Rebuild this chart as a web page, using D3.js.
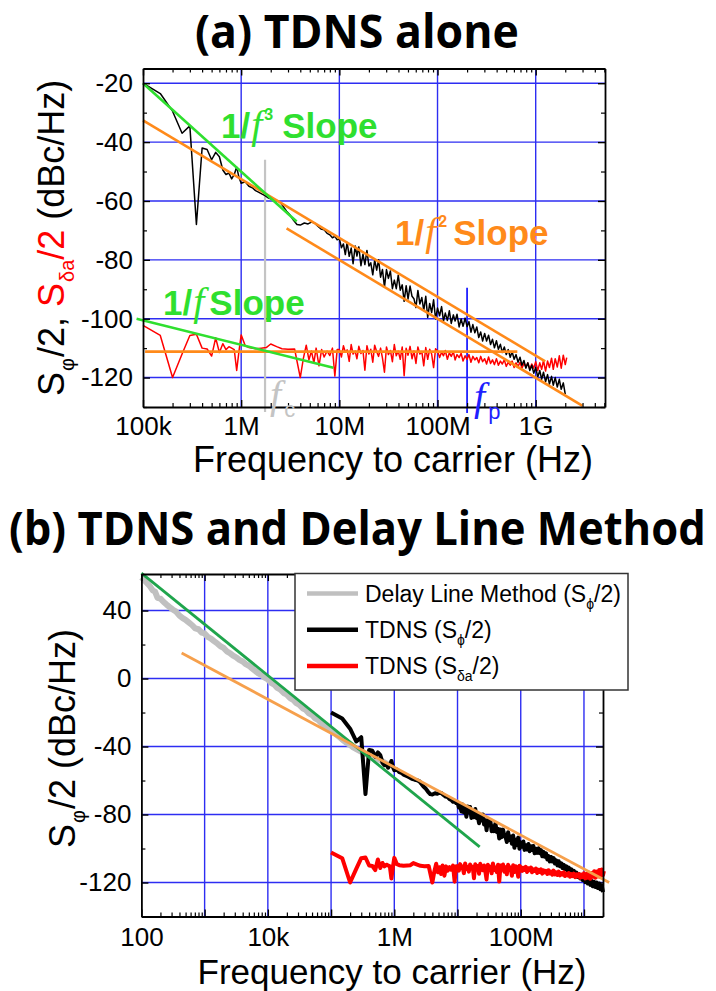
<!DOCTYPE html>
<html>
<head>
<meta charset="utf-8">
<script src="https://cdn.jsdelivr.net/npm/d3@7"></script>
<style>
  body { margin: 0; background: #fff; }
  svg { display: block; font-family: "Liberation Sans", Arial, sans-serif; }
</style>
</head>
<body>
<svg id="chart" width="716" height="991"></svg>
<script>
// ---------- measured spectra: [frequency offset (Hz), level (dBc/Hz)] ----------
const tdnsPhase = [
  [1.0e5,-20],[1.5e5,-23.5],[2.0e5,-29.5],[2.5e5,-37],[3.0e5,-34.5],[3.5e5,-68],[4.0e5,-42],[4.5e5,-42.5],
  [5.0e5,-46],[5.5e5,-43.5],[6.0e5,-45],[6.5e5,-49.5],[7.0e5,-51],[7.5e5,-50.5],[8.0e5,-52.5],[8.5e5,-51],
  [9.0e5,-48.5],[9.5e5,-52],[1.0e6,-54],[1.1e6,-53.5],[1.2e6,-55],[1.3e6,-55.5],[1.4e6,-56.5],[1.5e6,-57],
  [1.6e6,-57.5],[1.75e6,-58.2],[1.9e6,-59],[2.1e6,-59.5],[2.3e6,-59.8],[2.5e6,-60.5],[2.7e6,-62],[2.9e6,-63.5],
  [3.1e6,-64.5],[3.4e6,-66.5],[3.7e6,-68],[4.0e6,-68.2],[4.4e6,-67.5],[4.8e6,-67.8],[5.2e6,-67.2],[5.6e6,-67.5],
  [6.0e6,-68.5],[6.5e6,-69.5],[7.0e6,-69.8],[7.5e6,-71],[8.0e6,-71.5],[8.5e6,-72.5],[9.0e6,-72],[9.5e6,-73.2],
  [1.00e7,-72.8],[1.05e7,-75.9],[1.10e7,-74.6],[1.15e7,-78.2],[1.20e7,-74.1],[1.26e7,-78.8],[1.32e7,-76.0],
  [1.38e7,-81.3],[1.45e7,-75.3],[1.51e7,-78.7],[1.58e7,-75.6],[1.66e7,-82.0],[1.74e7,-78.1],[1.82e7,-81.6],
  [1.91e7,-76.8],[2.00e7,-82.1],[2.09e7,-81.0],[2.19e7,-85.1],[2.29e7,-80.0],[2.40e7,-83.5],[2.51e7,-80.0],
  [2.63e7,-85.9],[2.75e7,-83.3],[2.88e7,-89.3],[3.02e7,-83.3],[3.16e7,-86.3],[3.31e7,-83.8],[3.47e7,-89.8],
  [3.63e7,-86.9],[3.80e7,-89.8],[3.98e7,-85.2],[4.17e7,-90.3],[4.37e7,-88.5],[4.57e7,-94.1],[4.79e7,-88.8],
  [5.01e7,-93.3],[5.25e7,-88.9],[5.50e7,-92.4],[5.75e7,-93.2],[6.03e7,-96.2],[6.31e7,-90.4],[6.61e7,-95.0],
  [6.92e7,-92.8],[7.24e7,-97.2],[7.59e7,-92.4],[7.94e7,-99.6],[8.32e7,-94.8],[8.71e7,-97.9],[9.12e7,-93.6],
  [9.55e7,-100.1],[1.00e8,-96.4],[1.05e8,-99.0],[1.10e8,-95.9],[1.15e8,-100.8],[1.20e8,-98.1],[1.26e8,-100.6],
  [1.32e8,-97.3],[1.38e8,-101.6],[1.45e8,-98.7],[1.51e8,-100.8],[1.58e8,-98.5],[1.66e8,-102.8],[1.74e8,-100.1],
  [1.82e8,-102.6],[1.91e8,-99.8],[2.00e8,-102.7],[2.09e8,-101.0],[2.19e8,-104.6],[2.29e8,-102.0],[2.40e8,-104.8],
  [2.51e8,-102.8],[2.63e8,-106.4],[2.75e8,-104.5],[2.88e8,-107.6],[3.02e8,-105.0],[3.16e8,-107.6],[3.31e8,-105.6],
  [3.47e8,-108.8],[3.63e8,-107.0],[3.80e8,-109.9],[3.98e8,-107.5],[4.17e8,-110.4],[4.37e8,-108.7],[4.57e8,-111.5],
  [4.79e8,-109.6],[5.01e8,-112.2],[5.25e8,-110.5],[5.50e8,-113.1],[5.75e8,-111.2],[6.03e8,-113.8],[6.31e8,-112.2],
  [6.61e8,-114.8],[6.92e8,-113.1],[7.24e8,-115.8],[7.59e8,-114.2],[7.94e8,-116.8],[8.32e8,-115.0],[8.71e8,-117.6],
  [9.12e8,-115.8],[9.55e8,-118.5],[1.00e9,-116.6],[1.05e9,-119.8],[1.10e9,-117.6],[1.15e9,-120.6],[1.20e9,-118.2],
  [1.26e9,-121.4],[1.32e9,-119.0],[1.38e9,-122.2],[1.45e9,-119.6],[1.51e9,-122.6],[1.58e9,-120.0],[1.66e9,-123.2],
  [1.74e9,-120.6],[1.82e9,-124.0],[1.91e9,-121.8],[2.00e9,-125.6]
];

const tdnsAmplitude = [
  [1.0e5,-102.3],[1.5e5,-105.7],[2.0e5,-120],[2.5e5,-112],[3.0e5,-105.7],[3.5e5,-105.3],[4.0e5,-110],[4.5e5,-110.3],
  [5.0e5,-112.7],[5.5e5,-106.5],[6.0e5,-111.5],[6.5e5,-108.5],[7.0e5,-110.5],[7.5e5,-109.5],[8.0e5,-110],[8.5e5,-110.5],
  [9.0e5,-117.6],[9.5e5,-111],[1.0e6,-105.5],[1.1e6,-109.2],[1.2e6,-109.8],[1.4e6,-110.2],[1.6e6,-110],[1.8e6,-109.8],
  [2.0e6,-108.6],[2.3e6,-109.5],[2.6e6,-110.2],[3.0e6,-110.4],[3.5e6,-110.3],[4.0e6,-120],[4.3e6,-113.5],[4.6e6,-109],
  [4.9e6,-114],[5.2e6,-111],[5.5e6,-115],[5.8e6,-110],[6.2e6,-116],[6.6e6,-110.5],[7.0e6,-113],[7.5e6,-111],
  [8.0e6,-112.5],[8.5e6,-110],[9.0e6,-119.5],[9.5e6,-110.5],
  [1.00e7,-110.5],[1.05e7,-113.0],[1.10e7,-109.2],[1.15e7,-111.4],[1.20e7,-110.6],[1.26e7,-114.5],[1.32e7,-108.8],
  [1.38e7,-112.0],[1.45e7,-111.0],[1.51e7,-113.6],[1.58e7,-109.4],[1.66e7,-111.8],[1.74e7,-110.8],[1.82e7,-117.5],
  [1.91e7,-109.2],[2.00e7,-112.0],[2.09e7,-110.4],[2.19e7,-114.8],[2.29e7,-109.0],[2.40e7,-111.2],[2.51e7,-112.8],
  [2.63e7,-110.0],[2.75e7,-113.4],[2.88e7,-118.2],[3.02e7,-109.6],[3.16e7,-112.2],[3.31e7,-110.8],[3.47e7,-114.6],
  [3.63e7,-108.8],[3.80e7,-112.6],[3.98e7,-111.0],[4.17e7,-113.8],[4.37e7,-109.6],[4.57e7,-119.4],[4.79e7,-110.0],
  [5.01e7,-112.4],[5.25e7,-109.4],[5.50e7,-113.6],[5.75e7,-111.0],[6.03e7,-115.2],[6.31e7,-109.6],[6.61e7,-112.0],
  [6.92e7,-111.2],[7.24e7,-116.0],[7.59e7,-109.8],[7.94e7,-113.8],[8.32e7,-110.4],[8.71e7,-112.0],[9.12e7,-116.6],
  [9.55e7,-110.2],[1.00e8,-111.0],[1.05e8,-113.2],[1.10e8,-111.4],[1.15e8,-112.6],[1.20e8,-110.8],[1.26e8,-113.8],
  [1.32e8,-111.6],[1.38e8,-112.8],[1.45e8,-111.2],[1.51e8,-114.0],[1.58e8,-112.2],[1.66e8,-113.2],[1.74e8,-111.8],
  [1.82e8,-114.4],[1.91e8,-112.6],[2.00e8,-113.8],[2.09e8,-112.2],[2.19e8,-114.8],[2.29e8,-112.8],[2.40e8,-114.0],
  [2.51e8,-113.2],[2.63e8,-115.0],[2.75e8,-112.8],[2.88e8,-114.6],[3.02e8,-113.6],[3.16e8,-115.4],[3.31e8,-113.0],
  [3.47e8,-115.2],[3.63e8,-114.0],[3.80e8,-115.6],[3.98e8,-113.6],[4.17e8,-115.8],[4.37e8,-114.4],[4.57e8,-115.4],
  [4.79e8,-114.0],[5.01e8,-116.2],[5.25e8,-114.8],[5.50e8,-115.8],[5.75e8,-114.4],[6.03e8,-116.6],[6.31e8,-115.0],
  [6.61e8,-116.2],[6.92e8,-114.8],[7.24e8,-116.8],[7.59e8,-115.2],[7.94e8,-116.4],[8.32e8,-115.0],[8.71e8,-117.2],
  [9.12e8,-115.4],[9.55e8,-116.8],[1.00e9,-114.6],[1.05e9,-117.6],[1.10e9,-115.0],[1.15e9,-117.2],[1.20e9,-114.2],
  [1.26e9,-117.8],[1.32e9,-114.4],[1.38e9,-116.6],[1.45e9,-113.4],[1.51e9,-117.2],[1.58e9,-113.6],[1.66e9,-116.4],
  [1.74e9,-112.6],[1.82e9,-116.8],[1.91e9,-112.4],[2.00e9,-115.6],[2.07e9,-113.2]
];

const delayLinePhase = [
  [100,59.5],[110,58],[120,56.5],[135,54.5],[150,52],[165,51],[180,47.5],[200,47],[225,45],[250,43.5],[280,42],
  [316,40.5],[350,39.5],[400,37],[450,35.5],[500,34.5],[560,33],[630,31.5],[710,29.5],[800,29],[900,27],
  [1000,26.5],[1120,24.5],[1260,23.5],[1410,22],[1600,20.5],[1780,19],[2000,18],[2240,16],[2510,15],[2820,13.5],
  [3160,12.5],[3550,11],[4000,10],[4470,8.5],[5010,7.5],[5620,6],[6310,4.5],[7080,3],[7940,2],[8910,0.5],
  [10000,-0.5],[11200,-2.5],[12600,-3.5],[14100,-5.5],[15800,-6.5],[17800,-8.5],[20000,-9.5],[22400,-11.5],
  [25100,-12.5],[28200,-14.5],[31600,-15.5],[35500,-17.5],[39800,-18.5],[44700,-20.5],[50100,-21.5],[56200,-23.5],
  [63100,-24.5],[70800,-26.5],[79400,-27.5],[89100,-29],[100000,-30],[112000,-32],[126000,-33.5],[141000,-35],
  [158000,-36.5],[178000,-38],[200000,-39],[224000,-40.5],[251000,-41.5],[282000,-42.5],[316000,-43.5],
  [355000,-44.5],[398000,-45],[447000,-46],[501000,-46.5],[562000,-47.5],[631000,-48.5],[708000,-49.5],
  [794000,-50.5],[850000,-51]
];

// ---------- reference slopes and markers: [frequency (Hz), level (dBc/Hz)] ----------
const topSlope3 = [[1e5,-20],[3.67e6,-67]];
const topSlope2Upper = [[1e5,-32.6],[1.25e9,-114.5]];
const topSlope2Lower = [[2.9e6,-69.3],[3.0e9,-129.6]];
const topSlope1 = [[8.6e4,-100],[8.7e6,-116.7]];
const topFloor = [[1.05e5,-111.2],[6.5e8,-111.2]];
const cornerFc = [[1.75e6,-46],[1.75e6,-131.7]];
const cornerFp = [[2.0e8,-89.5],[2.0e8,-132]];
const bottomSlope3 = [[100,62],[2.24e7,-99]];
const bottomSlope2 = [[433,15],[2.5e9,-120]];

// ---------- tick labels ----------
const topXTicks = [1e5,1e6,1e7,1e8,1e9];
const topXLabels = ["100k","1M","10M","100M","1G"];
const topYTicks = [-20,-40,-60,-80,-100,-120];
const topYLabels = ["-20","-40","-60","-80","-100","-120"];
const topYMinor = [-30,-50,-70,-90,-110,-130];
const botXTicks = [1e2,1e3,1e4,1e5,1e6,1e7,1e8,1e9];
const botXLabelled = [1e2,1e4,1e6,1e8];
const botXLabels = ["100","10k","1M","100M"];
const botYTicks = [40,0,-40,-80,-120];
const botYLabels = ["40","0","-40","-80","-120"];
const botYMinor = [20,-20,-60,-100,-140];
const legendLabels = ["Delay Line Method (S", "TDNS (S", "TDNS (S"];

// ---------- styling ----------
const GRID = "#2d2df2";
const TOP_GREEN = "#2fdf2f", TOP_ORANGE = "#ff8a1a";
const BOT_GREEN = "#1fa54c", BOT_ORANGE = "#f6a04c";
const RED = "#ff0000", GRAY = "#c0c0c0", BLUE = "#1f1fff";
const SANS = "'Liberation Sans', Arial, sans-serif";
const SERIF = "'Liberation Serif', 'Times New Roman', serif";
const TITLE = "'Open Sans', Lato, 'Noto Sans', sans-serif";

const svg = d3.select("#chart");

function panel(x, y, o) {
  const g = svg.append("g");
  const [x0, x1] = x.range(), [y0, y1] = y.range();
  g.append("g").selectAll("line").data(o.xTicks.filter(v => x(v) > x0 + 1 && x(v) < x1 - 1)).join("line")
    .attr("x1", d => x(d)).attr("x2", d => x(d)).attr("y1", y0).attr("y2", y1)
    .attr("stroke", GRID).attr("stroke-width", 1.4);
  g.append("g").selectAll("line").data(o.yTicks).join("line")
    .attr("x1", x0).attr("x2", x1).attr("y1", d => y(d)).attr("y2", d => y(d))
    .attr("stroke", GRID).attr("stroke-width", 1.4);
  return g;
}

function axes(g, x, y, o) {
  const [x0, x1] = x.range(), [y0, y1] = y.range();
  const minorX = x.ticks().filter(v => Math.abs(Math.log10(v) - Math.round(Math.log10(v))) > 1e-6);
  const style = sel => {
    sel.attr("font-size", 26).attr("font-family", SANS);
    sel.selectAll("line").attr("stroke", "#000").attr("stroke-width", 1.4);
    sel.select(".domain").attr("stroke", "#000").attr("stroke-width", 1.8);
    sel.selectAll("text").attr("fill", "#000");
  };
  const bare = sel => {
    sel.select(".domain").remove();
    sel.selectAll("text").remove();
    sel.selectAll("line").attr("stroke", "#000").attr("stroke-width", 1.2);
  };
  const labelsOnly = sel => {
    sel.attr("font-size", 26).attr("font-family", SANS);
    sel.select(".domain").remove();
    sel.selectAll("line").remove();
    sel.selectAll("text").attr("fill", "#000");
  };
  // bottom: minor ticks, major ticks + frame, labels
  g.append("g").attr("transform", `translate(0,${y0})`)
    .call(d3.axisBottom(x).tickValues(minorX).tickSizeInner(-4).tickSizeOuter(0)).call(bare);
  g.append("g").attr("transform", `translate(0,${y0})`)
    .call(d3.axisBottom(x).tickValues(o.xTicks).tickSizeInner(-7).tickSizeOuter(0))
    .call(style).call(s => s.selectAll("text").remove());
  g.append("g").attr("transform", `translate(0,${y0})`)
    .call(d3.axisBottom(x).tickValues(o.xLabelled).tickSize(0).tickPadding(o.xPad)
      .tickFormat((d, i) => o.xLabels[i])).call(labelsOnly);
  // top
  g.append("g").attr("transform", `translate(0,${y1})`)
    .call(d3.axisTop(x).tickValues(minorX).tickSizeInner(-4).tickSizeOuter(0)).call(bare);
  g.append("g").attr("transform", `translate(0,${y1})`)
    .call(d3.axisTop(x).tickValues(o.xTicks).tickSizeInner(-7).tickSizeOuter(0))
    .call(style).call(s => s.selectAll("text").remove());
  // left
  g.append("g").attr("transform", `translate(${x0},0)`)
    .call(d3.axisLeft(y).tickValues(o.yMinor).tickSizeInner(-4).tickSizeOuter(0)).call(bare);
  g.append("g").attr("transform", `translate(${x0},0)`)
    .call(d3.axisLeft(y).tickValues(o.yTicks).tickSizeInner(-7).tickSizeOuter(0).tickPadding(10)
      .tickFormat((d, i) => o.yLabels[i])).call(style);
  // right
  g.append("g").attr("transform", `translate(${x1},0)`)
    .call(d3.axisRight(y).tickValues(o.yMinor).tickSizeInner(-4).tickSizeOuter(0)).call(bare);
  g.append("g").attr("transform", `translate(${x1},0)`)
    .call(d3.axisRight(y).tickValues(o.yTicks).tickSizeInner(-7).tickSizeOuter(0))
    .call(style).call(s => s.selectAll("text").remove());
}

function trace(g, x, y, data, color, width) {
  const line = d3.line().x(d => x(d[0])).y(d => y(d[1]));
  g.append("path").datum(data).attr("d", line).attr("fill", "none")
    .attr("stroke", color).attr("stroke-width", width)
    .attr("stroke-linejoin", "round").attr("stroke-linecap", "butt");
}

// ================= (a) TDNS alone =================
const xT = d3.scaleLog().domain([1e5, 5.08e9]).range([143, 605]);
const yT = d3.scaleLinear().domain([-130, -15]).range([407, 68.5]);
const gT = panel(xT, yT, { xTicks: topXTicks, yTicks: topYTicks });

trace(gT, xT, yT, cornerFc, "#c4c4c4", 2.2);
trace(gT, xT, yT, cornerFp, BLUE, 1.8);
trace(gT, xT, yT, tdnsAmplitude, RED, 1.5);
trace(gT, xT, yT, tdnsPhase, "#000", 1.5);
trace(gT, xT, yT, topFloor, TOP_ORANGE, 2.6);
trace(gT, xT, yT, topSlope2Upper, TOP_ORANGE, 2.6);
trace(gT, xT, yT, topSlope2Lower, TOP_ORANGE, 2.6);
trace(gT, xT, yT, topSlope3, TOP_GREEN, 2.6);
trace(gT, xT, yT, topSlope1, TOP_GREEN, 2.6);

axes(gT, xT, yT, { xTicks: topXTicks, xLabelled: topXTicks, xLabels: topXLabels, yTicks: topYTicks,
                   yLabels: topYLabels, yMinor: topYMinor, xPad: 9.5 });

// slope annotations: "1/" + italic f + optional power + "Slope"
function slopeLabel(x, y, power, gap, color) {
  const t = svg.append("text").attr("x", x).attr("y", y).attr("fill", color)
    .attr("font-weight", "bold").attr("font-size", 35);
  t.append("tspan").text("1/");
  t.append("tspan").style("font-family", SERIF).attr("font-style", "italic")
    .attr("font-weight", "normal").attr("font-size", 40).attr("dx", 1).text("f");
  if (power) {
    t.append("tspan").attr("font-size", 16).attr("dy", -18).attr("dx", 2).text(power);
    t.append("tspan").attr("dy", 18).attr("dx", gap).text("Slope");
  } else {
    t.append("tspan").attr("dx", gap).text("Slope");
  }
}
slopeLabel(221, 138, "3", 9, TOP_GREEN);
slopeLabel(395, 245, "2", 6, TOP_ORANGE);
slopeLabel(163, 315, "", 5, TOP_GREEN);

// corner frequency markers
function cornerLabel(x, y, sub, color) {
  const t = svg.append("text").attr("x", x).attr("y", y).attr("fill", color);
  t.append("tspan").style("font-family", SERIF).attr("font-style", "italic").attr("font-size", 40).text("f");
  t.append("tspan").attr("font-size", 22).attr("dy", 9).attr("dx", 3).text(sub);
}
cornerLabel(270, 408, "c", "#c4c4c4");
cornerLabel(474, 410, "p", BLUE);

// axis titles
svg.append("text").attr("x", 393).attr("y", 472).attr("text-anchor", "middle")
  .attr("font-size", 36).text("Frequency to carrier (Hz)");

const yLabT = svg.append("text").attr("transform", "translate(64,396) rotate(-90)").attr("font-size", 36);
yLabT.append("tspan").text("S");
yLabT.append("tspan").attr("font-size", 20).attr("dy", 10).attr("dx", 1).text("φ");
yLabT.append("tspan").attr("dy", -10).attr("dx", 1).text("/2, ");
yLabT.append("tspan").attr("fill", RED).text("S");
yLabT.append("tspan").attr("fill", RED).attr("font-size", 20).attr("dy", 10).attr("dx", 1).text("δa");
yLabT.append("tspan").attr("fill", RED).attr("dy", -10).text("/2");
yLabT.append("tspan").text(" (dBc/Hz)");

// ================= (b) TDNS and Delay Line Method =================
const xB = d3.scaleLog().domain([100, 2e9]).range([141.4, 603]);
const yB = d3.scaleLinear().domain([-140, 61.5]).range([916.5, 574]);
const gB = panel(xB, yB, { xTicks: botXTicks, yTicks: botYTicks });

trace(gB, xB, yB, delayLinePhase, GRAY, 6);
trace(gB, xB, yB, tdnsPhase, "#000", 4);
trace(gB, xB, yB, tdnsAmplitude, RED, 4);
trace(gB, xB, yB, bottomSlope3, BOT_GREEN, 2.8);
trace(gB, xB, yB, bottomSlope2, BOT_ORANGE, 2.8);

axes(gB, xB, yB, { xTicks: botXTicks, xLabelled: botXLabelled, xLabels: botXLabels, yTicks: botYTicks,
                   yLabels: botYLabels, yMinor: botYMinor, xPad: 11.5 });

svg.append("text").attr("x", 392).attr("y", 983.5).attr("text-anchor", "middle")
  .attr("font-size", 35).text("Frequency to carrier (Hz)");

const yLabB = svg.append("text").attr("transform", "translate(75,848) rotate(-90)").attr("font-size", 36);
yLabB.append("tspan").text("S");
yLabB.append("tspan").attr("font-size", 20).attr("dy", 10).attr("dx", 1).text("φ");
yLabB.append("tspan").attr("dy", -10).attr("dx", 1).text("/2 (dBc/Hz)");

// legend
const leg = svg.append("g");
leg.append("rect").attr("x", 295).attr("y", 573.5).attr("width", 333).attr("height", 116.5)
  .attr("fill", "#fff").attr("stroke", "#333").attr("stroke-width", 1.5);
const legendItems = [
  { label: legendLabels[0], sub: "ϕ", color: GRAY },
  { label: legendLabels[1], sub: "ϕ", color: "#000" },
  { label: legendLabels[2], sub: "δa", color: RED }
];
legendItems.forEach((d, i) => {
  const cy = 593.5 + i * 36.3;
  leg.append("line").attr("x1", 307).attr("x2", 358).attr("y1", cy).attr("y2", cy)
    .attr("stroke", d.color).attr("stroke-width", 4.5);
  const t = leg.append("text").attr("x", 365).attr("y", cy + 8).attr("font-size", 23);
  t.append("tspan").text(d.label);
  t.append("tspan").attr("font-size", 14).attr("dy", 7).text(d.sub);
  t.append("tspan").attr("dy", -7).text("/2)");
});

// panel titles, squeezed horizontally to a set width while keeping glyph height
function panelTitle(label, x, y, width) {
  const t = svg.append("text").style("font-family", TITLE)
    .attr("font-weight", "bold").attr("font-size", 46).text(label);
  const natural = t.node().getComputedTextLength();
  t.attr("transform", `translate(${x},${y}) scale(${width / natural},1)`);
}
panelTitle("(a) TDNS alone", 195, 48, 324);
panelTitle("(b) TDNS and Delay Line Method", 9, 545, 697);
</script>
</body>
</html>
